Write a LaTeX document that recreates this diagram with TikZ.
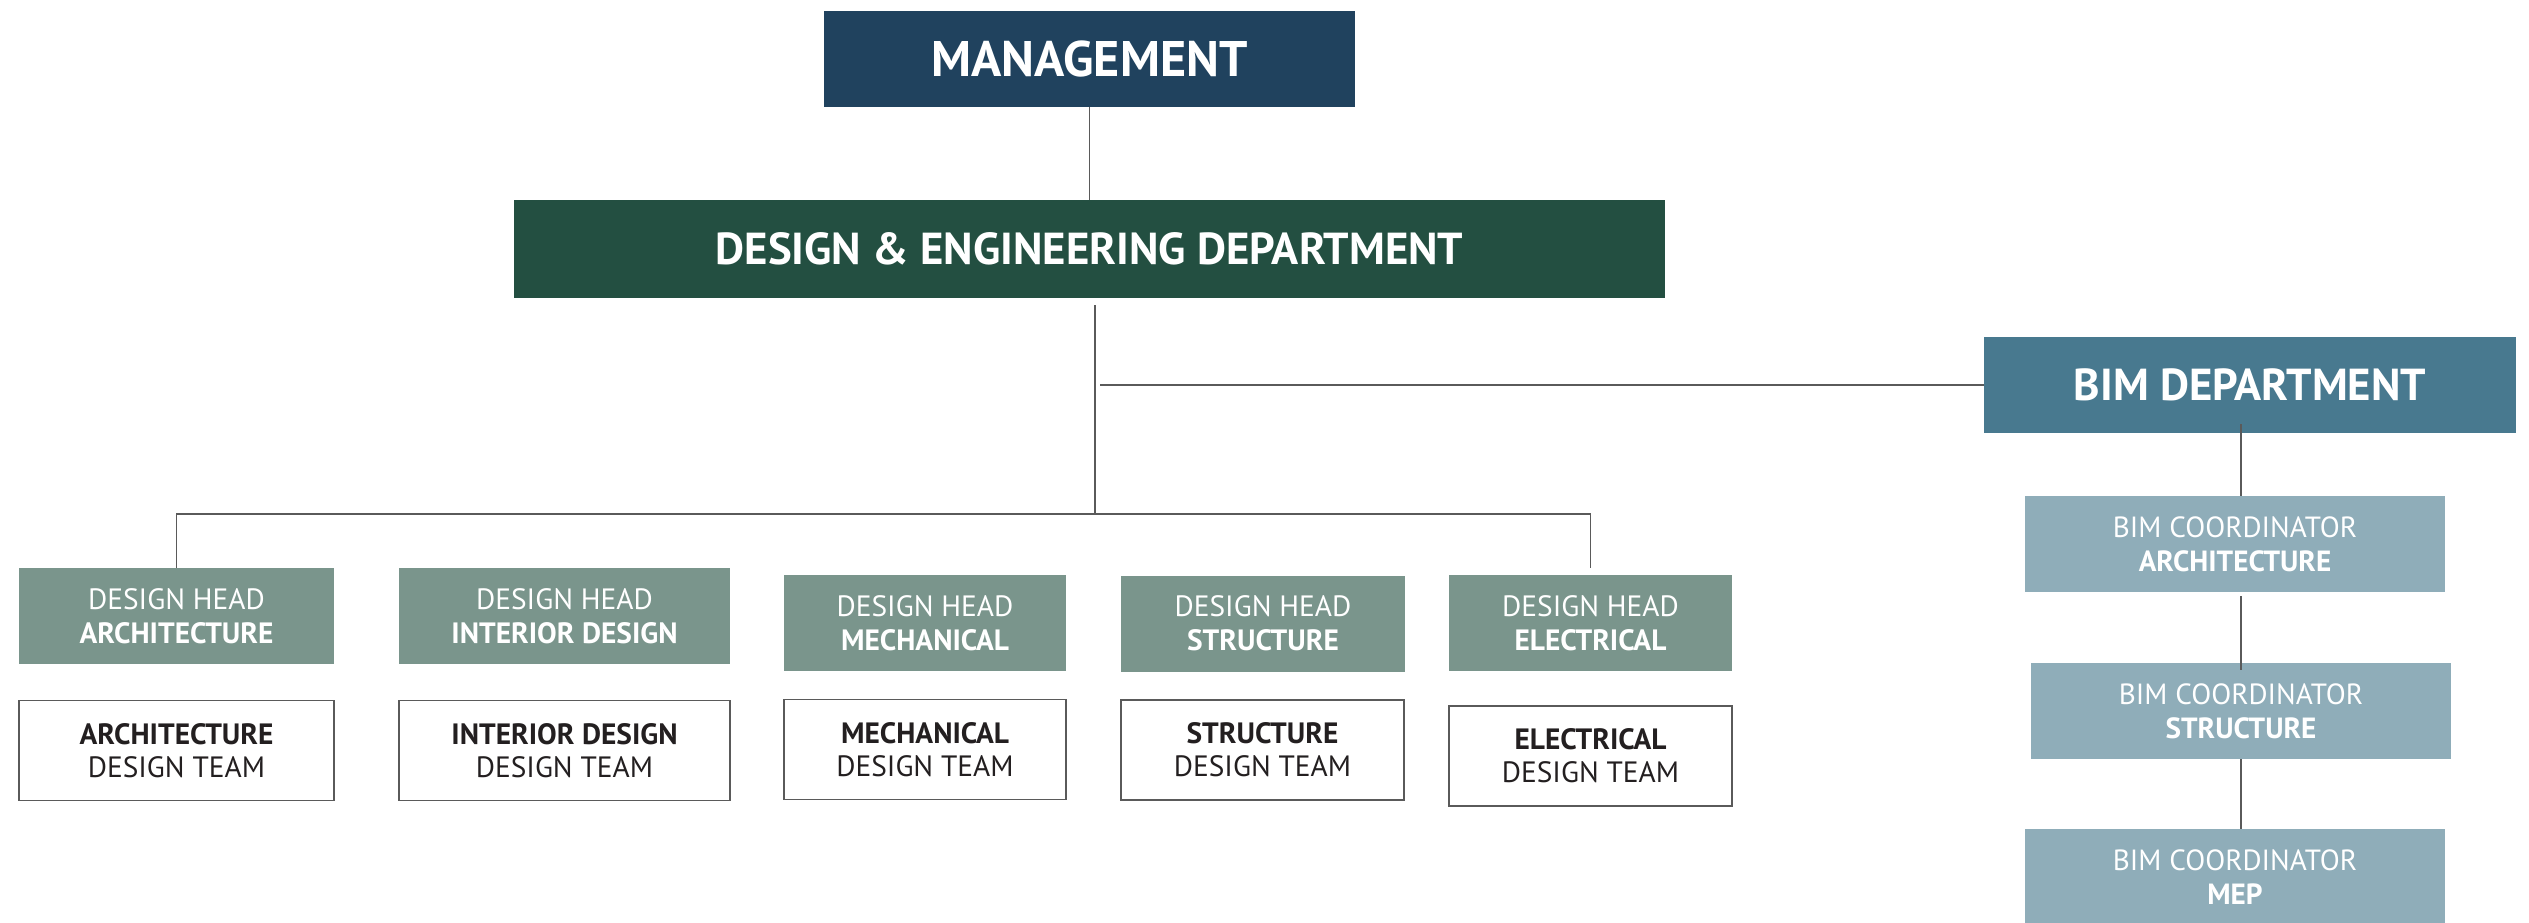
\documentclass[tikz,border=0pt]{standalone}
\usepackage{fontspec}
\setmainfont{PT Sans}
\definecolor{mgmtblue}{HTML}{20425E}
\definecolor{deptgreen}{HTML}{234F41}
\definecolor{bimblue}{HTML}{48798F}
\definecolor{headgreen}{HTML}{7A958C}
\definecolor{coordblue}{HTML}{8FADB9}
\definecolor{linegray}{HTML}{5A5A5A}
\definecolor{teamblack}{HTML}{231F20}
\tikzset{
  box/.style={rectangle, inner sep=0pt, align=center, text=white},
  topbox/.style={box, minimum height=48pt, font=\bfseries\fontsize{23}{26}\selectfont},
  headbox/.style={box, fill=headgreen, minimum height=48pt, font=\fontsize{14.7}{17}\selectfont},
  teambox/.style={box, draw=linegray, line width=0.75pt, text=teamblack, minimum height=50pt, font=\fontsize{14.7}{16.5}\selectfont},
  coordbox/.style={box, fill=coordblue, minimum height=48pt, font=\fontsize{14.6}{17}\selectfont},
  link/.style={draw=linegray, line width=0.75pt}
}
\begin{document}
\begin{tikzpicture}[x=0.5pt,y=-0.5pt]
  \useasboundingbox (0,0) rectangle (2529,922);
  % top levels
  \node[topbox, fill=mgmtblue, minimum width=265.5pt, font=\bfseries\fontsize{25}{28}\selectfont] (mgmt) at (1089.5,59) {MANAGEMENT};
  \node[topbox, fill=deptgreen, minimum width=575.5pt, minimum height=49pt, font=\bfseries\fontsize{22.4}{26}\selectfont] (dept) at (1089.5,249) {DESIGN \& ENGINEERING DEPARTMENT};
  \node[topbox, fill=bimblue, minimum width=266pt, font=\bfseries\fontsize{22.4}{26}\selectfont] (bim) at (2250,385) {BIM DEPARTMENT};
  % design heads
  \node[headbox, minimum width=157.5pt] (archhead) at (176.5,616) {DESIGN HEAD\\\textbf{ARCHITECTURE}};
  \node[headbox, minimum width=165.5pt] (inthead) at (564.5,616) {DESIGN HEAD\\\textbf{INTERIOR DESIGN}};
  \node[headbox, minimum width=141pt] (mechhead) at (925,623) {DESIGN HEAD\\\textbf{MECHANICAL}};
  \node[headbox, minimum width=142pt] (structhead) at (1263,623.5) {DESIGN HEAD\\\textbf{STRUCTURE}};
  \node[headbox, minimum width=141.5pt] (elechead) at (1590.5,623) {DESIGN HEAD\\\textbf{ELECTRICAL}};
  % design teams
  \node[teambox, minimum width=157.5pt] (archteam) at (176.5,750.5) {\textbf{ARCHITECTURE}\\DESIGN TEAM};
  \node[teambox, minimum width=165.5pt] (intteam) at (564.5,750.5) {\textbf{INTERIOR DESIGN}\\DESIGN TEAM};
  \node[teambox, minimum width=141pt] (mechteam) at (925,749.5) {\textbf{MECHANICAL}\\DESIGN TEAM};
  \node[teambox, minimum width=141.5pt] (structteam) at (1262.5,750) {\textbf{STRUCTURE}\\DESIGN TEAM};
  \node[teambox, minimum width=141.5pt] (eleteam) at (1590.5,756) {\textbf{ELECTRICAL}\\DESIGN TEAM};
  % bim coordinators
  \node[coordbox, minimum width=210pt] (coordarch) at (2235,544) {BIM COORDINATOR\\\textbf{ARCHITECTURE}};
  \node[coordbox, minimum width=210pt] (coordstruct) at (2241,711) {BIM COORDINATOR\\\textbf{STRUCTURE}};
  \node[coordbox, minimum width=210pt] (coordmep) at (2235,877) {BIM COORDINATOR\\\textbf{MEP}};
  % connectors
  \coordinate (split) at (1095,514);
  \coordinate (bimjoin) at (1100,385);
  \draw[link] (mgmt) -- (dept);
  \draw[link] ([yshift=-3.5pt]dept.south -| split) -- (split);
  \draw[link] (archhead.north) |- (split) -| ([yshift=3.5pt]elechead.north);
  \draw[link] (bimjoin) -- (bim.west);
  \draw[link] ([yshift=4.5pt]bim.south -| coordstruct) -- (coordarch.north -| coordstruct);
  \draw[link] ([yshift=-2pt]coordarch.south -| coordstruct) -- ([yshift=-3.5pt]coordstruct.north);
  \draw[link] (coordstruct.south) -- (coordmep.north -| coordstruct);
\end{tikzpicture}
\end{document}
